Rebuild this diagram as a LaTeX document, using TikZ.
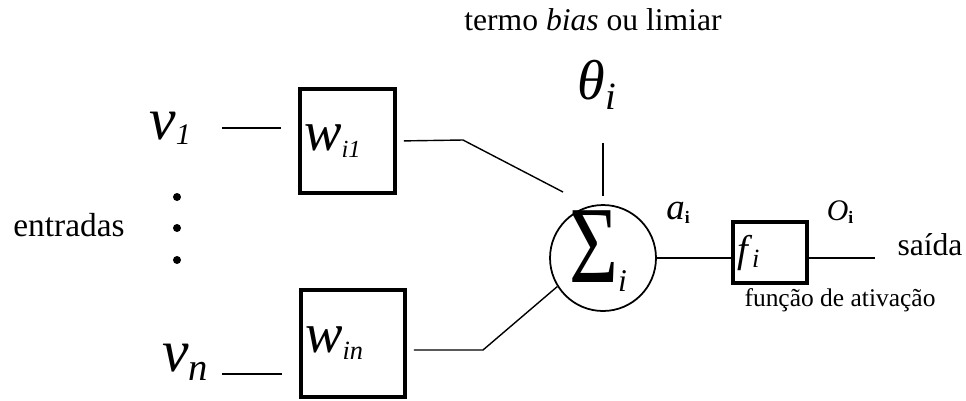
\documentclass[tikz,border=0pt]{standalone}
\usepackage{fontspec}
\usepackage{graphicx}
\setmainfont{Liberation Serif}
\usetikzlibrary{positioning, calc}
% symbol with subscript: base, size, sub, subsize, drop
\newcommand{\sym}[5]{{\fontsize{#2}{#2}\selectfont\textit{#1}}%
  \raisebox{#5}{\fontsize{#4}{#4}\selectfont\textit{#3}}}
\newcommand{\txt}[2]{\fontsize{#1}{#1}\selectfont #2}

\begin{document}
\begin{tikzpicture}[x=0.02cm, y=-0.02cm, inner sep=0pt,
    wbox/.style={draw, line width=2.2pt, inner sep=0.08cm, align=left},
    wire/.style={line width=0.8pt}]
  \useasboundingbox (0,0) rectangle (966,400);

  \node (bias) at (593,20) {\txt{18}{termo \textit{bias} ou limiar}};
  \node (theta) at (597,85) {\sym{θ}{32}{i}{22}{-6pt}};
  \node (entr) at (69,225) {\txt{19}{entradas}};
  \node (v1) at (170,128) {\sym{v}{34}{1}{17}{-3pt}};
  \node (vn) at (185,362) {\sym{v}{34}{n}{22}{-5pt}};
  \foreach \y in {197,228,260}
    \fill (177,\y) circle (0.08cm);

  \node[wbox, minimum width=1.9cm, minimum height=2.08cm, text width=1.74cm]
    (w1) at (347.5,141) {\sym{w}{32}{i1}{14}{-4pt}};
  \node[wbox, minimum width=2.08cm, minimum height=2.14cm, text width=1.92cm]
    (w2) at (353,343.5) {\sym{w}{32}{in}{15}{-4pt}};
  \node[draw, circle, line width=1pt, minimum size=2.12cm] (sum) at (603,258) {};
  \node (sig) at (598,251)
    {\scalebox{0.92}[1.2]{\txt{52}{Σ}}\raisebox{-5pt}{\txt{18}{\textit{i}}}};
  \node[wbox, line width=1.8pt, minimum width=1.48cm, minimum height=1.22cm,
    text width=1.32cm] (f) at (770,252.5) {\sym{f}{22}{i}{15}{-3pt}};

  \node (a) at (678,213) {\sym{a}{21}{\textup{\textbf{i}}}{10}{-2pt}};
  \node (o) at (840,212) {\sym{O}{17}{\textup{\textbf{i}}}{10}{-2pt}};
  \node (out) at (930,245) {\txt{18}{saída}};
  \node (func) at (840,300) {\txt{14.5}{função de ativação}};

  \coordinate (k1) at (463,140);
  \coordinate (e1) at (563,192);
  \coordinate (k2) at (483,350);
  \coordinate (t1) at (603,143);
  \coordinate (end) at (875,258);

  \draw[wire, shorten <=0.62cm, shorten >=0.34cm] (v1.east) -- (v1.east -| w1.west);
  \draw[wire, shorten <=0.28cm, shorten >=0.34cm]
    ([yshift=-0.24cm]vn.east) -- ([yshift=-0.24cm]vn.east -| w2.west);
  \draw[wire, shorten <=0.14cm] (w1.east) -- (k1) -- (e1);
  \draw[wire, shorten <=0.14cm] ([yshift=-0.13cm]w2.east) -- (k2) -- (sum.212);
  \draw[wire, shorten >=0.16cm] (t1) -- (sum.north);
  \draw[wire] (sum.east) -- (sum.east -| f.west);
  \draw[wire] (sum.east -| f.east) -- (end);
\end{tikzpicture}
\end{document}
